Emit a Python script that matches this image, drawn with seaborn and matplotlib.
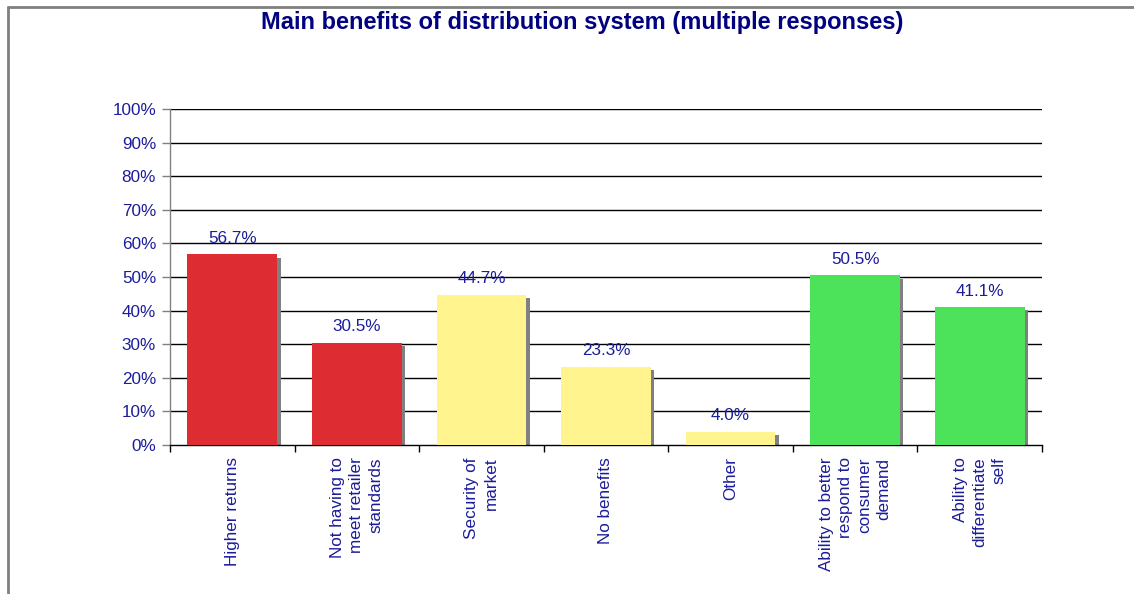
import matplotlib
matplotlib.use("Agg")
import matplotlib.pyplot as plt
import matplotlib.transforms as mtransforms
from matplotlib.patches import Rectangle
from matplotlib.lines import Line2D
import seaborn as sns
import pandas as pd
import numpy as np

categories = ["Higher returns",
              "Not having to\nmeet retailer\nstandards",
              "Security of\nmarket",
              "No benefits",
              "Other",
              "Ability to better\nrespond to\nconsumer\ndemand",
              "Ability to\ndifferentiate\nself"]
values = [56.7, 30.5, 44.7, 23.3, 4.0, 50.5, 41.1]
bar_colors = ["#DE2C33", "#DE2C33", "#FFF48E", "#FFF48E", "#FFF48E", "#4CE25A", "#4CE25A"]
title = "Main benefits of distribution system (multiple responses)"
yticks = list(range(0, 101, 10))

sns.set_theme(style="white")
plt.rcParams['font.family'] = ['Liberation Sans', 'DejaVu Sans']

LABEL = "#1C1C9A"
NAVY = "#000080"

fig = plt.figure(figsize=(11.34, 5.94), dpi=100)
ax = fig.add_axes([170/1134, 1-445/594, (1042-170)/1134, (445-109)/594])

df = pd.DataFrame({"cat": categories, "val": values})
sns.barplot(data=df, x="cat", y="val", hue="cat", palette=dict(zip(categories, bar_colors)),
            legend=False, width=0.72, ax=ax, saturation=1, zorder=3,
            linewidth=0, edgecolor='none')

# shadows
for p in list(ax.patches):
    tr = mtransforms.offset_copy(ax.transData, fig=fig, x=3.5, y=-3.5, units='dots')
    sh = Rectangle((p.get_x(), p.get_y()), p.get_width(), p.get_height(),
                   facecolor="#808080", edgecolor='none', linewidth=0, transform=tr, zorder=2)
    sh.set_clip_box(ax.bbox)
    ax.add_patch(sh)

ax.set_ylim(0, 100)
ax.set_xlim(-0.5, len(categories) - 0.5)
ax.set_yticks(yticks)
ax.set_yticklabels([f"{v}%" for v in yticks])
ax.set_xlabel("")
ax.set_ylabel("")
ax.set_axisbelow(True)
for v in yticks[1:]:
    ax.axhline(v, color="black", lw=1.0, zorder=1)

ax.tick_params(axis='y', which='major', length=6, width=1, color="#808080",
               labelsize=12.3, labelcolor=LABEL, pad=4, left=True)
ax.set_xticks(range(len(categories)))
ax.set_xticklabels(categories, rotation=90, ha='center', va='top',
                   multialignment='right', fontsize=12.3, color=LABEL, linespacing=1.35)
ax.tick_params(axis='x', which='major', length=0, pad=9)
ax.set_xticks(np.arange(-0.5, len(categories), 1.0), minor=True)
ax.tick_params(axis='x', which='minor', length=5, width=1, color="black", bottom=True)

for s in ["top", "right"]:
    ax.spines[s].set_visible(False)
ax.spines["left"].set_color("#808080")
ax.spines["left"].set_linewidth(1)
ax.spines["bottom"].set_color("black")
ax.spines["bottom"].set_linewidth(1)

for p, v in zip(ax.patches[:len(values)], values):
    ax.annotate(f"{v:.1f}%", (p.get_x() + p.get_width()/2, v), xytext=(0, 6),
                textcoords='offset points', ha='center', va='bottom',
                fontsize=12.3, color=LABEL)

fig.text(582.5/1134, 1-22/594, title, ha='center', va='center',
         fontsize=17, fontweight='bold', color=NAVY)

# outer chart frame (partially visible)
fig.add_artist(Line2D([8/1134, 1.0], [1-7/594, 1-7/594], transform=fig.transFigure,
                      color="#808080", lw=2))
fig.add_artist(Line2D([8/1134, 8/1134], [0, 1-7/594], transform=fig.transFigure,
                      color="#808080", lw=2))

fig.savefig("out.png", dpi=100, facecolor="white")
